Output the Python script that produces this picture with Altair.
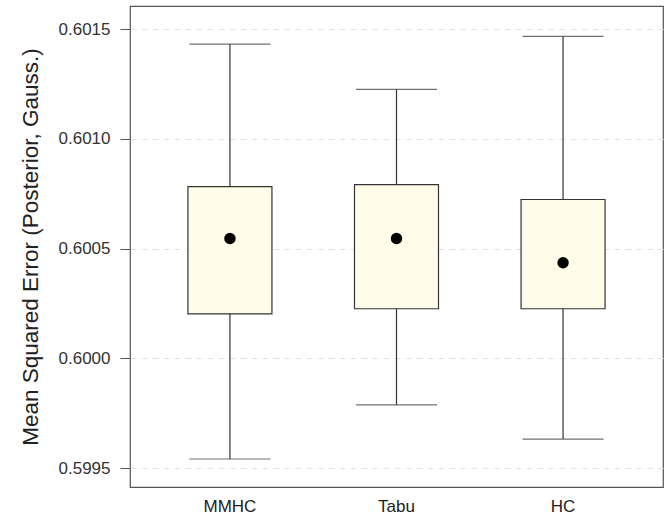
import altair as alt
import pandas as pd

# Box-plot summaries per structure-learning algorithm
algorithms = ["MMHC", "Tabu", "HC"]
whisker_low = [0.599541, 0.599788, 0.599632]
q1 = [0.600203, 0.600226, 0.600226]
median = [0.600546, 0.600546, 0.600436]
q3 = [0.600783, 0.600792, 0.600724]
whisker_high = [0.601432, 0.601226, 0.601468]

y_ticks = [0.5995, 0.6000, 0.6005, 0.6010, 0.6015]

df = pd.DataFrame({
    "algo": algorithms,
    "lo": whisker_low,
    "q1": q1,
    "med": median,
    "q3": q3,
    "hi": whisker_high,
})

FONT = "Liberation Sans"
y_scale = alt.Scale(domain=[0.5994134, 0.6016062], nice=False, zero=False)
x_enc = alt.X(
    "algo:N",
    sort=algorithms,
    scale=alt.Scale(paddingInner=0, paddingOuter=0.1),
    axis=alt.Axis(
        title=None, labelAngle=0, ticks=False, domain=False,
        labelFontSize=17, labelColor="#222", labelFont=FONT, labelPadding=11,
    ),
)

base = alt.Chart(df)

whiskers = base.mark_rule(color="#333", strokeWidth=1.2).encode(
    x=x_enc,
    y=alt.Y(
        "lo:Q",
        scale=y_scale,
        axis=alt.Axis(
            values=y_ticks, format=".4f",
            title="Mean Squared Error (Posterior, Gauss.)",
            titleFontSize=22.5, titleFontWeight="normal", titleColor="#222",
            titleFont=FONT, titlePadding=16,
            labelFontSize=17, labelColor="#333", labelFont=FONT, labelPadding=10,
            tickSize=10, tickColor="#555", domain=False,
            grid=True, gridColor="#e3e3e3", gridDash=[6, 5], gridWidth=1,
        ),
    ),
    y2="hi:Q",
)

cap_low = base.mark_tick(color="#333", size=81, thickness=1.2, orient="horizontal").encode(
    x=x_enc, y=alt.Y("lo:Q", scale=y_scale)
)
cap_high = base.mark_tick(color="#333", size=81, thickness=1.2, orient="horizontal").encode(
    x=x_enc, y=alt.Y("hi:Q", scale=y_scale)
)

boxes = base.mark_bar(
    size=84, fill="#fffde9", stroke="#333", strokeWidth=1.2
).encode(
    x=x_enc, y=alt.Y("q1:Q", scale=y_scale), y2="q3:Q"
)

medians = base.mark_point(filled=True, color="black", size=130, opacity=1).encode(
    x=x_enc, y=alt.Y("med:Q", scale=y_scale)
)

chart = (
    alt.layer(whiskers, cap_low, cap_high, boxes, medians)
    .properties(
        width=533,
        height=481,
        padding={"left": 130, "top": 6, "right": 1, "bottom": 30},
        autosize="none",
        background="white",
    )
    .configure_view(stroke="#555", strokeWidth=1.2)
)

chart.save("out.html", embed_options={"renderer": "svg", "actions": False})
